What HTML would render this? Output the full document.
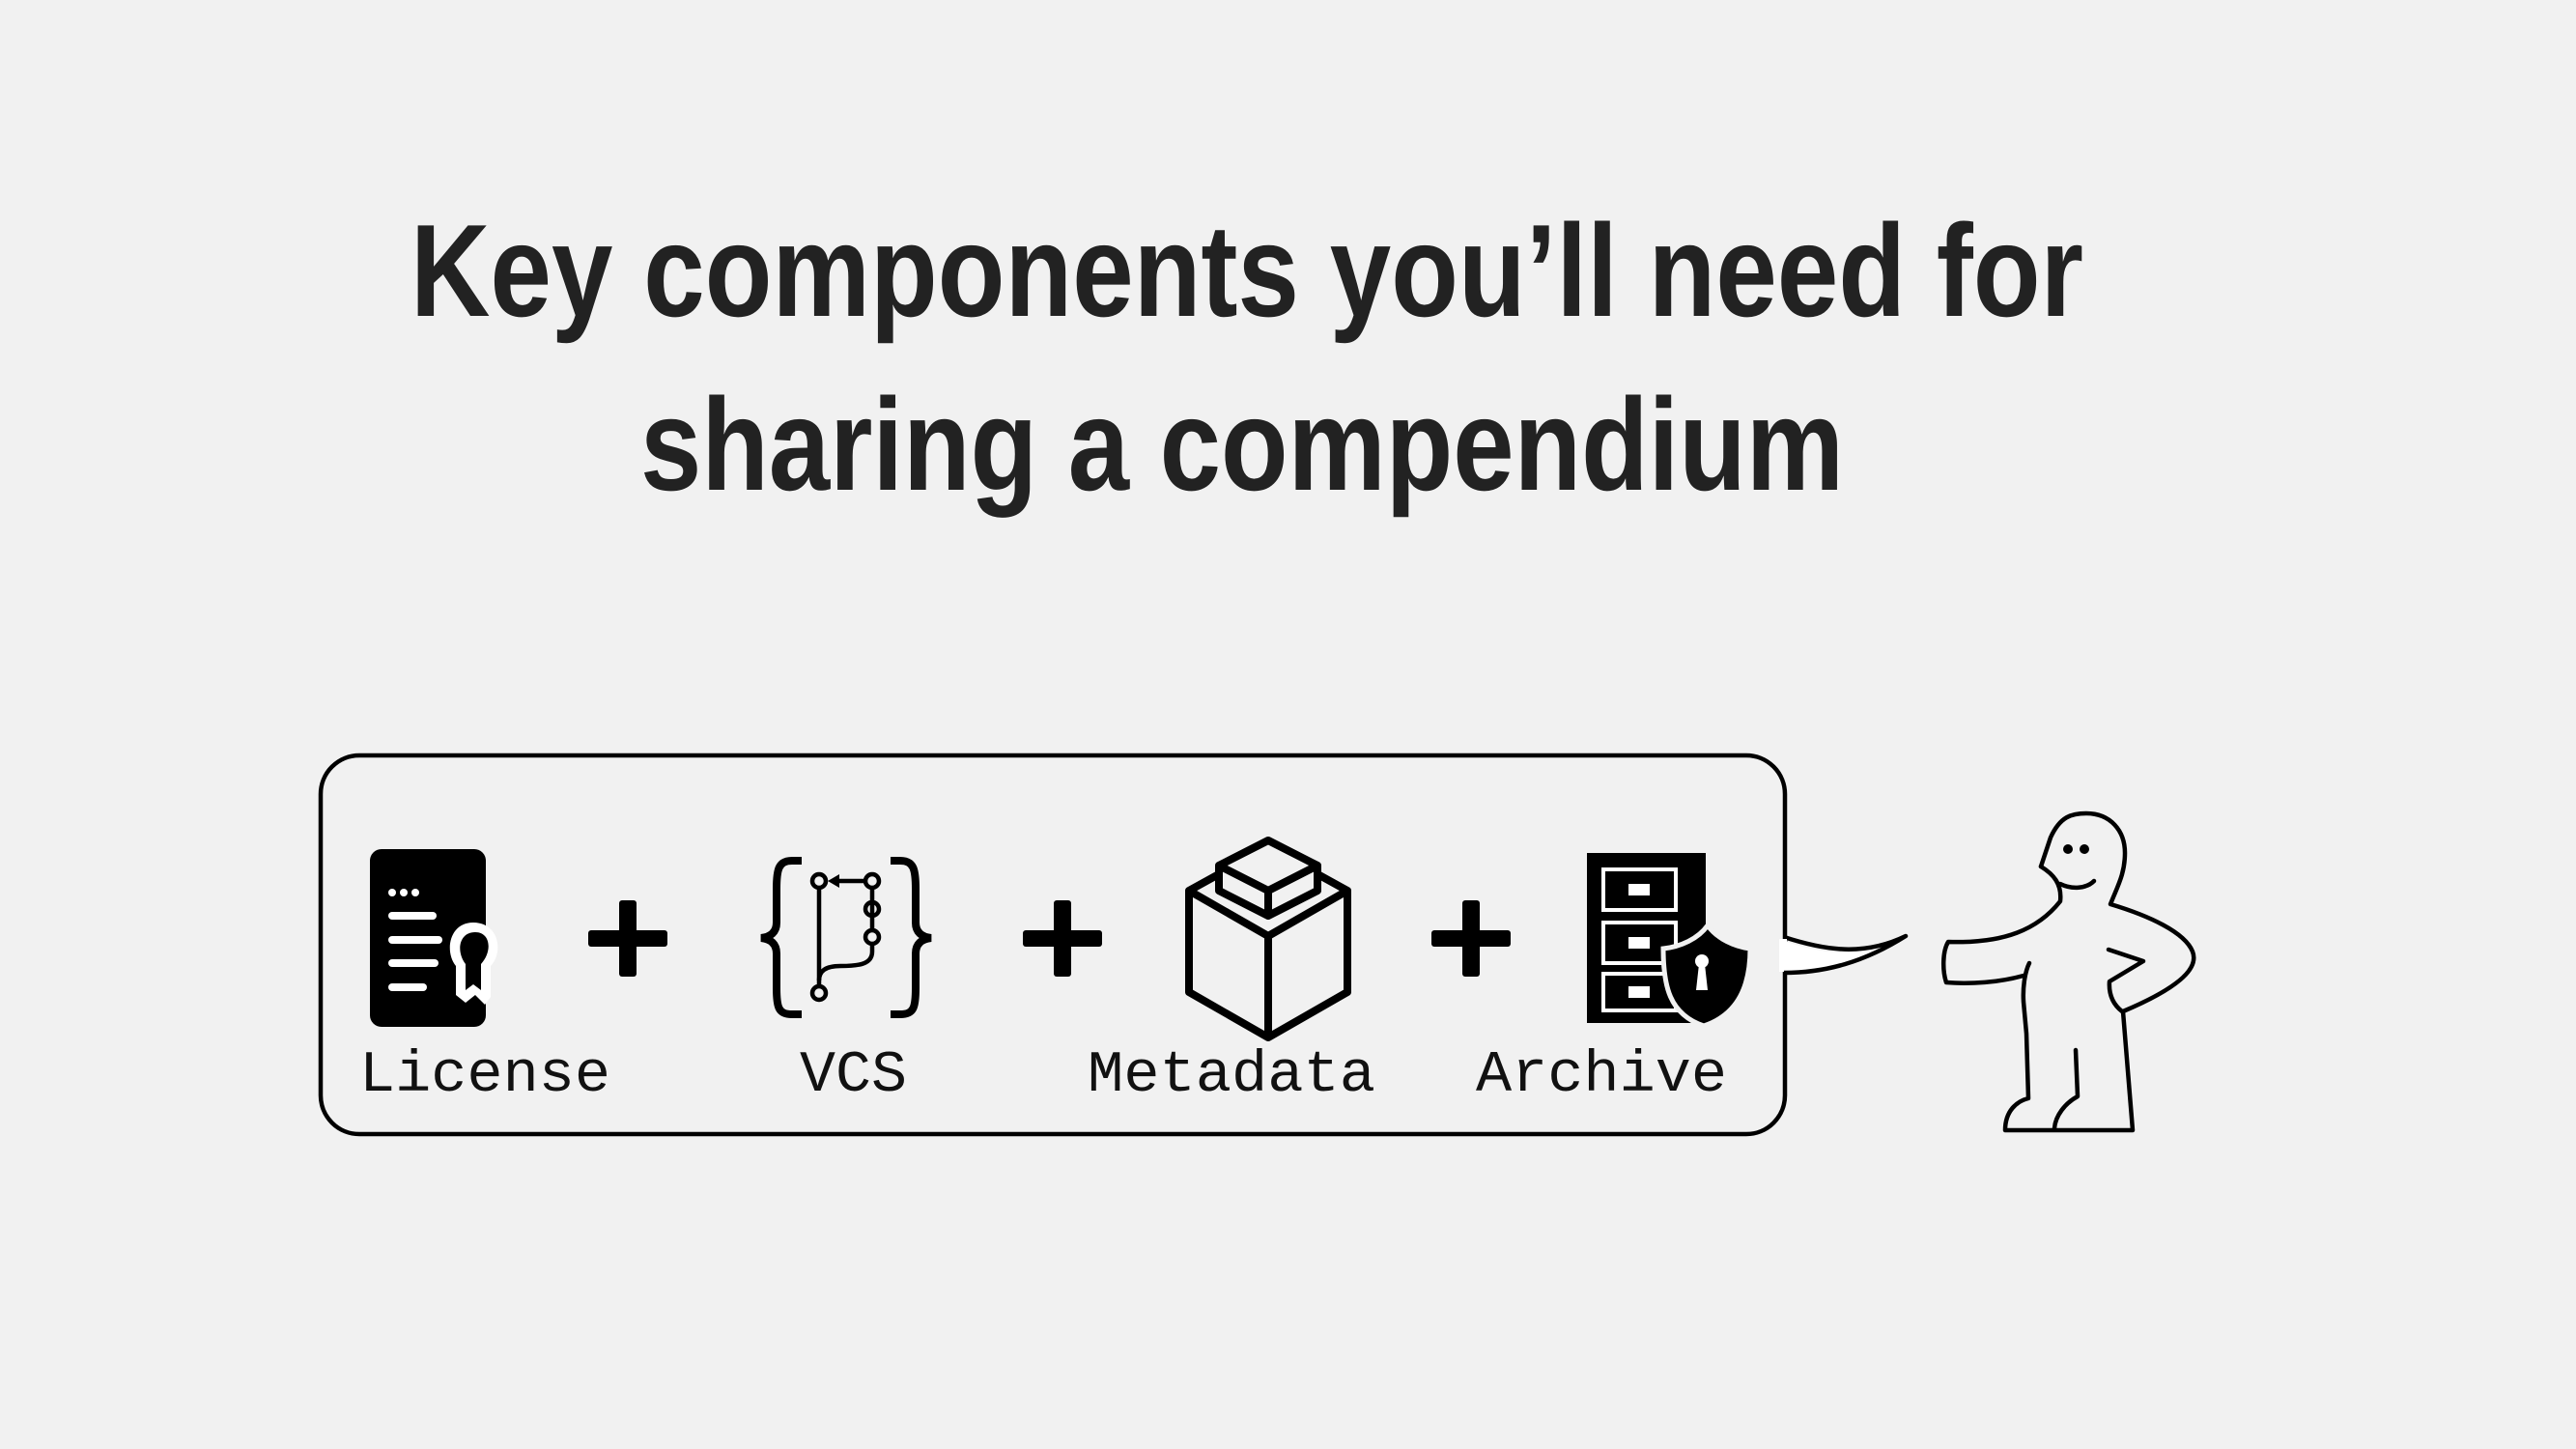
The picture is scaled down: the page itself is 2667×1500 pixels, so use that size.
<!DOCTYPE html>
<html><head><meta charset="utf-8"><style>
html,body{margin:0;padding:0;background:#f1f1f1;}
svg{display:block}
</style></head><body>
<svg width="2667" height="1500" viewBox="0 0 2667 1500" xmlns="http://www.w3.org/2000/svg">
<rect width="2667" height="1500" fill="#f1f1f1"/>
<g font-family="'Liberation Sans', sans-serif" font-weight="bold" fill="#222" font-size="136">
<text x="425" y="327" textLength="1732" lengthAdjust="spacingAndGlyphs">Key components you’ll need for</text>
<text x="663" y="507" textLength="1246" lengthAdjust="spacingAndGlyphs">sharing a compendium</text>
</g>
<!-- box -->
<rect x="332" y="782" width="1516" height="392" rx="40" fill="none" stroke="#000" stroke-width="4.5"/>
<!-- bubble tail -->
<path d="M1842 972 C1890 990 1930 992 1973 969 C1930 998 1890 1007 1842 1006 Z" fill="#fff" stroke="none"/>
<path d="M1847 970 C1890 984 1930 990 1973 969 C1930 996 1890 1007 1847 1007" fill="none" stroke="#000" stroke-width="4.5" stroke-linejoin="round"/>
<rect x="1843" y="972" width="7" height="32" fill="#fff"/>
<!-- person -->
<g fill="none" stroke="#000" stroke-width="4.5" stroke-linecap="round" stroke-linejoin="round">
<path d="M2113 897 L2123 867 C2133 845 2145 842 2160 842 C2185 842 2200 860 2200 883 C2200 905 2192 918 2185 936 C2225 948 2262 965 2270 985 C2276 1000 2262 1020 2198 1047 L2208 1170 L2076 1170 C2076 1150 2088 1140 2100 1137 L2098 1070 L2095 1037 C2094 1020 2097 1005 2101 997"/>
<path d="M2183 983 L2219 995 L2184 1016 C2183 1030 2188 1040 2197 1047"/>
<path d="M2095 1010 C2070 1017 2040 1019 2015 1017 C2011 1005 2011 985 2017 975 C2075 977 2110 962 2133 933 C2135 915 2126 905 2113 897"/>
<path d="M2149 1087 L2151 1135 C2138 1142 2128 1155 2127 1168"/>
<path d="M2133 915 C2145 921 2160 920 2168 912"/>
</g>
<circle cx="2141" cy="879" r="5" fill="#000"/>
<circle cx="2158" cy="879" r="5" fill="#000"/>
<!-- License icon -->
<rect x="383" y="879" width="120" height="184" rx="12" fill="#000"/>
<circle cx="406" cy="924" r="4" fill="#fff"/><circle cx="418" cy="924" r="4" fill="#fff"/><circle cx="430" cy="924" r="4" fill="#fff"/>
<rect x="402" y="944" width="50" height="8" rx="4" fill="#fff"/>
<rect x="402" y="969" width="56" height="8" rx="4" fill="#fff"/>
<rect x="402" y="993" width="52" height="8" rx="4" fill="#fff"/>
<rect x="402" y="1018" width="40" height="8" rx="4" fill="#fff"/>
<path d="M490 955 C465 955 460 985 472 1000 L472 1030 L482 1038 L492 1030 L502 1040 L508 1032 L508 1000 C522 985 516 955 490 955Z" fill="#fff"/>
<path d="M492 965 C475 965 472 985 482 998 L482 1025 L490 1019 L498 1025 L498 998 C510 985 508 965 492 965Z" fill="#000"/>
<!-- plus signs -->
<g fill="#000">
<rect x="609" y="963" width="82" height="17" rx="3"/><rect x="641" y="932" width="18" height="79" rx="3"/>
<rect x="1059" y="963" width="82" height="17" rx="3"/><rect x="1091" y="932" width="18" height="79" rx="3"/>
<rect x="1482" y="963" width="82" height="17" rx="3"/><rect x="1514" y="932" width="18" height="79" rx="3"/>
</g>
<!-- VCS -->
<g fill="none" stroke="#000" stroke-width="8">
<path d="M830 891 L820 891 C806 891 804 900 804 920 L804 955 C804 965 798 970 788 971 C798 972 804 977 804 987 L804 1023 C804 1043 806 1050 820 1050 L830 1050"/>
<path d="M922 891 L932 891 C946 891 948 900 948 920 L948 955 C948 965 954 970 964 971 C954 972 948 977 948 987 L948 1023 C948 1043 946 1050 932 1050 L922 1050"/>
</g>
<g fill="none" stroke="#000" stroke-width="4.5">
<line x1="848" y1="918" x2="848" y2="1022"/>
<line x1="903" y1="918" x2="903" y2="964"/>
<path d="M903 976 L903 985 C903 998 890 1000 870 1000 C855 1000 848 1005 848 1015"/>
<circle cx="848" cy="912" r="7"/><circle cx="903" cy="912" r="7"/><circle cx="903" cy="941" r="7"/><circle cx="903" cy="970" r="7"/><circle cx="848" cy="1028" r="7"/>
<line x1="866" y1="912" x2="896" y2="912"/>
</g>
<path d="M857 912 L869 905 L869 919Z" fill="#000"/>
<!-- Metadata cube -->
<g fill="none" stroke="#000" stroke-width="8" stroke-linejoin="round">
<path d="M1260 906 L1231 922 L1231 1027 L1313 1074 L1395 1027 L1395 922 L1366 906"/>
<path d="M1231 922 L1313 969 L1395 922"/>
<line x1="1313" y1="969" x2="1313" y2="1074"/>
<path d="M1313 870 L1364 896 L1364 922 L1313 948 L1262 922 L1262 896 Z"/>
<path d="M1262 896 L1313 922 L1364 896 M1313 922 L1313 948"/>
</g>
<!-- Archive -->
<rect x="1643" y="883" width="123" height="176" fill="#000"/>
<g fill="none" stroke="#fff" stroke-width="4">
<rect x="1660" y="900" width="75" height="42"/>
<rect x="1660" y="955" width="75" height="42"/>
<rect x="1660" y="1008" width="75" height="38"/>
</g>
<g fill="#fff"><rect x="1686" y="915" width="22" height="12"/><rect x="1686" y="970" width="22" height="12"/><rect x="1686" y="1021" width="22" height="12"/></g>
<path d="M1768 958 C1758 972 1740 980 1722 982 C1722 1020 1728 1050 1764 1062 C1800 1050 1812 1020 1812 982 C1796 980 1778 972 1768 958Z" fill="#000" stroke="#f1f1f1" stroke-width="5"/>
<circle cx="1762" cy="995" r="7" fill="#fff"/>
<path d="M1759 998 L1765 998 L1768 1025 L1756 1025Z" fill="#fff"/>
<!-- labels -->
<g font-family="'Liberation Mono', monospace" font-size="60" fill="#111">
<text x="372" y="1129" textLength="260" lengthAdjust="spacingAndGlyphs">License</text>
<text x="828" y="1129" textLength="111" lengthAdjust="spacingAndGlyphs">VCS</text>
<text x="1126" y="1129" textLength="298" lengthAdjust="spacingAndGlyphs">Metadata</text>
<text x="1528" y="1129" textLength="260" lengthAdjust="spacingAndGlyphs">Archive</text>
</g>
</svg>
</body></html>
